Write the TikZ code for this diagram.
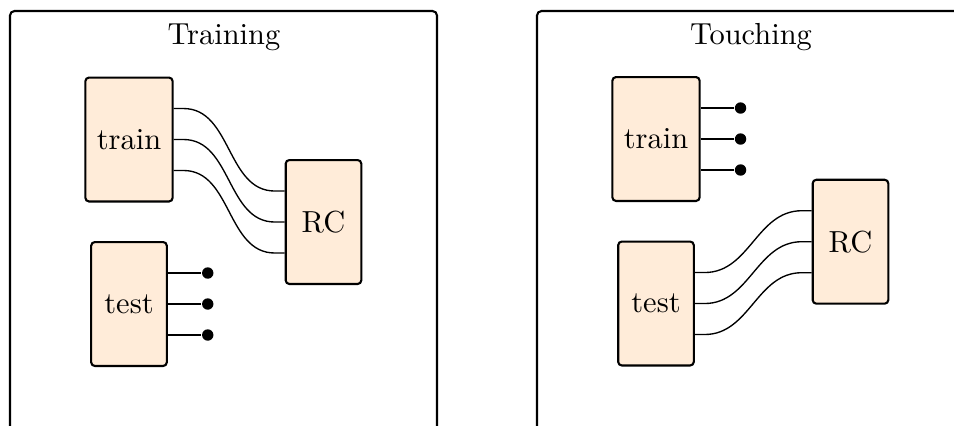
\documentclass[tikz,border=0pt]{standalone}
\usetikzlibrary{positioning}
\begin{document}
\begin{tikzpicture}[x=1pt/3,y=-1pt/3,
  every node/.style={font=\fontsize{10.15}{12}\selectfont},
  frame/.style={draw,line width=0.7pt,rounded corners=1.5pt},
  block/.style={draw,line width=0.7pt,fill=orange!15,rounded corners=1.2pt,
    minimum height=41.3pt,minimum width=25.2pt,inner xsep=3.8pt},
  wire/.style={line width=0.45pt},
  dot/.style={circle,fill=black,inner sep=0pt,minimum size=3.8pt},
  title/.style={anchor=base}]
\clip (0,0) rectangle (954,425);
% ---------- left panel ----------
\draw[frame] (10,11) rectangle (437,470);
\node[title] (ttl1) at (224,44.5) {Training};
\node[block] (trainA) at (129,139.5) {train};
\node[block] (testA) at (129,304) {test};
\node[block] (rcA) at (323.5,222) {RC};
\foreach \i/\s in {1/10.33pt,2/0pt,3/-10.33pt}{
  \coordinate (ta\i) at ([yshift=\s]trainA.east);
  \coordinate (ra\i) at ([yshift=\s]rcA.west);
  \coordinate (sa\i) at ([yshift=\s]testA.east);
  \node[dot] (da\i) at ([xshift=13.3pt]sa\i) {};
  \draw[wire] (ta\i) -- ++(3.3pt,0) to[out=0,in=180] ([xshift=-3.3pt]ra\i) -- (ra\i);
  \draw[wire] (sa\i) -- (da\i);
}
% ---------- right panel ----------
\draw[frame] (537,11) rectangle (964,470);
\node[title] (ttl2) at (751,44.5) {Touching};
\node[block] (trainB) at (656,139) {train};
\node[block] (testB) at (656,303.5) {test};
\node[block] (rcB) at (850.5,241.7) {RC};
\foreach \i/\s in {1/10.33pt,2/0pt,3/-10.33pt}{
  \coordinate (tb\i) at ([yshift=\s]trainB.east);
  \coordinate (rb\i) at ([yshift=\s]rcB.west);
  \coordinate (sb\i) at ([yshift=\s]testB.east);
  \node[dot] (db\i) at ([xshift=13.3pt]tb\i) {};
  \draw[wire] (tb\i) -- (db\i);
  \draw[wire] (sb\i) -- ++(3.3pt,0) to[out=0,in=180] ([xshift=-3.3pt]rb\i) -- (rb\i);
}
\end{tikzpicture}
\end{document}
